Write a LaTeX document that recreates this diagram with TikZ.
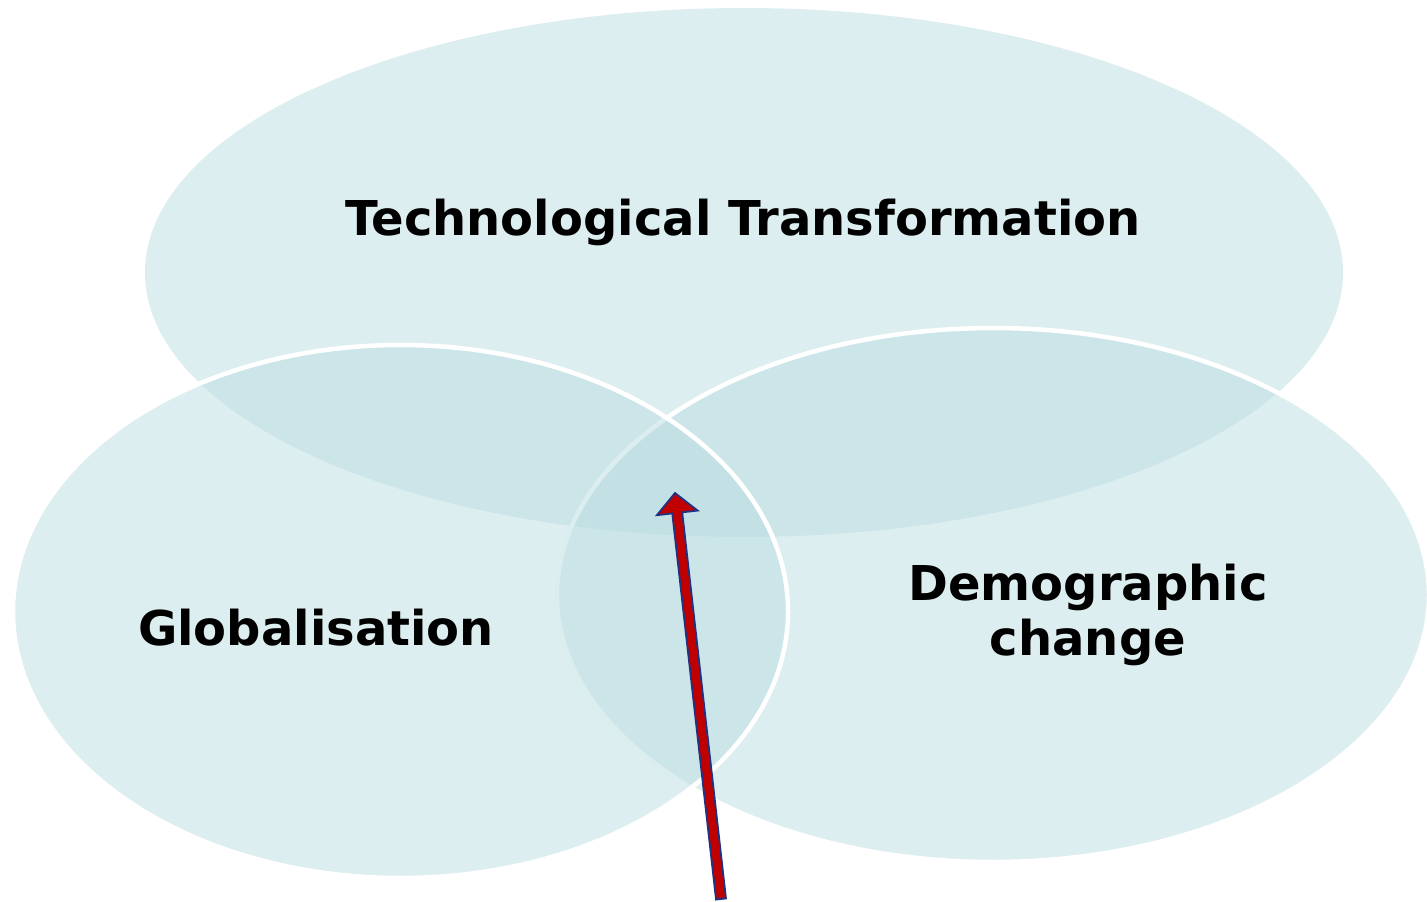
\documentclass[tikz,border=0pt]{standalone}
\usepackage{fontspec}
\setmainfont{DejaVu Sans}
\usetikzlibrary{calc}
\definecolor{vennfill}{RGB}{187,221,225}
\definecolor{arrowred}{RGB}{192,0,0}
\definecolor{arrowblue}{RGB}{32,50,130}
\tikzset{
	venn/.style={fill=vennfill, fill opacity=0.5},
	vennedge/.style={venn, draw=white, line width=4.5pt},
	setname/.style={font=\bfseries\fontsize{48}{55}\selectfont, align=center, anchor=base, inner sep=0pt},
}

\begin{document}
\begin{tikzpicture}[x=1pt, y=-1pt]
	\useasboundingbox (0,0) rectangle (1427,902);

	% the three sets
	\path[venn] (744,272.5) ellipse [x radius=599pt, y radius=264.5pt];
	\path[vennedge] (993,595) ellipse [x radius=436pt, y radius=267pt];
	\path[vennedge] (400.5,611.5) ellipse [x radius=387.5pt, y radius=266.5pt];

	\node[setname] (tech) at (743,235) {Technological Transformation};
	\node[setname] (glob) at (316,645) {Globalisation};
	\node[setname] (demo) at (1088,655) {Demographic\\change};

	% pointer to the common part
	\coordinate (tail) at (721,899);
	\coordinate (tip) at (675,493);
	\coordinate (neck) at ($(tip)!20pt!(tail)$);
	\fill[black, opacity=0.15, shift={(2,2)}]
		($(tail)!5pt!90:(tip)$) -- ($(neck)!5pt!90:(tip)$) -- ($(neck)!20.5pt!90:(tip)$) -- (tip)
		-- ($(neck)!20.5pt!-90:(tip)$) -- ($(neck)!5pt!-90:(tip)$) -- ($(tail)!5pt!-90:(tip)$) -- cycle;
	\filldraw[fill=arrowred, draw=arrowblue, line width=1.8pt]
		($(tail)!5pt!90:(tip)$) -- ($(neck)!5pt!90:(tip)$) -- ($(neck)!20.5pt!90:(tip)$) -- (tip)
		-- ($(neck)!20.5pt!-90:(tip)$) -- ($(neck)!5pt!-90:(tip)$) -- ($(tail)!5pt!-90:(tip)$) -- cycle;
\end{tikzpicture}
\end{document}
